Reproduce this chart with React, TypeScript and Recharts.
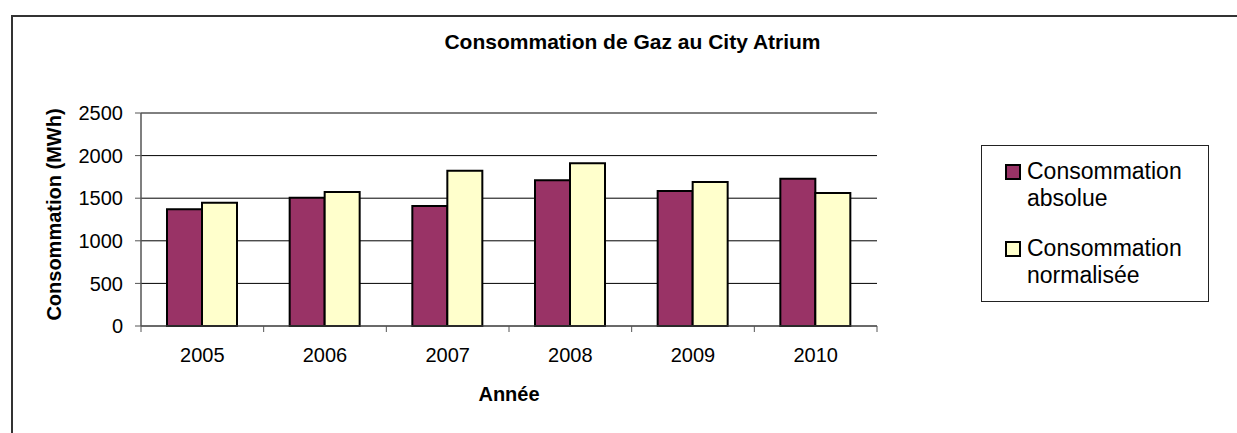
import React from 'react';
import { BarChart, Bar, XAxis, YAxis, CartesianGrid, Legend } from 'recharts';

const years = ['2005', '2006', '2007', '2008', '2009', '2010'];
const absolue = [1370, 1506, 1408, 1710, 1585, 1729];
const normalisee = [1447, 1573, 1823, 1910, 1690, 1561];
const yTicks = [0, 500, 1000, 1500, 2000, 2500];

const seriesNames = ['Consommation absolue', 'Consommation normalisée'];
const seriesColors = ['#993366', '#FFFFCC'];

const data = years.map((y, i) => ({ year: y, absolue: absolue[i], normalisee: normalisee[i] }));

const FONT = '"Liberation Sans", Arial, sans-serif';
const CHART_W = 1229;
const CHART_H = 425;
const MARGIN = { top: 105, right: 360, bottom: 27, left: 13 };
const Y_AXIS_W = 120;
const X_AXIS_H = 80;
const X_TICK_SIZE = 6;
const X_TICK_MARGIN = 16;
const PLOT_W = CHART_W - MARGIN.left - MARGIN.right - Y_AXIS_W;
const HALF_BAND = PLOT_W / years.length / 2;

const XTick = (props: any) => {
  const { x, y, payload, index } = props;
  const base = y - X_TICK_SIZE - X_TICK_MARGIN;
  return (
    <g>
      <line x1={x - HALF_BAND} y1={base} x2={x - HALF_BAND} y2={base + X_TICK_SIZE} stroke="#555" strokeWidth={1} />
      {index === years.length - 1 && (
        <line x1={x + HALF_BAND} y1={base} x2={x + HALF_BAND} y2={base + X_TICK_SIZE} stroke="#555" strokeWidth={1} />
      )}
      <text x={x} y={y} dy="0.71em" textAnchor="middle" fontSize={20} fill="#000" fontFamily={FONT}>
        {payload.value}
      </text>
    </g>
  );
};

const YLabel = (props: any) => {
  const vb = props.viewBox || {};
  const cx = vb.x + 33;
  const cy = vb.y + vb.height / 2 - 5;
  return (
    <text
      x={cx}
      y={cy}
      dy="0.36em"
      textAnchor="middle"
      transform={`rotate(-90, ${cx}, ${cy})`}
      fontSize={20}
      fontWeight="bold"
      fill="#000"
      fontFamily={FONT}
    >
      Consommation (MWh)
    </text>
  );
};

const LegendContent = () => (
  <div
    style={{
      boxSizing: 'border-box',
      width: 228,
      height: 157,
      border: '1px solid #222',
      background: '#fff',
      paddingTop: 12,
      paddingLeft: 23,
      fontFamily: FONT,
      fontSize: 23,
      lineHeight: '27px',
      color: '#000',
    }}
  >
    {seriesNames.map((name, i) => (
      <div key={name} style={{ display: 'flex', alignItems: 'flex-start', marginBottom: i === 0 ? 23 : 0 }}>
        <div
          style={{
            boxSizing: 'border-box',
            width: 16,
            height: 16,
            marginTop: 6,
            marginRight: 6,
            flex: '0 0 16px',
            background: seriesColors[i],
            border: '2px solid #000',
          }}
        />
        <div style={{ width: 170 }}>{name}</div>
      </div>
    ))}
  </div>
);

export default function App() {
  return (
    <div style={{ position: 'fixed', left: 0, top: 0, width: 1237, height: 433, overflow: 'hidden', background: '#fff' }}>
      <div style={{ position: 'absolute', left: 8, top: 8, width: CHART_W, height: CHART_H }}>
        <div
          style={{
            position: 'absolute',
            left: 3,
            top: 7,
            width: CHART_W - 3,
            height: CHART_H - 7,
            borderTop: '2px solid #333',
            borderLeft: '2px solid #333',
            boxSizing: 'border-box',
          }}
        />
        <div
          style={{
            position: 'absolute',
            left: 0,
            top: 23,
            width: 1249,
            textAlign: 'center',
            fontFamily: FONT,
            fontSize: 21,
            fontWeight: 'bold',
            lineHeight: '21px',
            color: '#000',
          }}
        >
          Consommation de Gaz au City Atrium
        </div>
        <div style={{ position: 'absolute', left: 0, top: 0 }}>
          <BarChart width={CHART_W} height={CHART_H} data={data} margin={MARGIN} barGap={0} barCategoryGap={26}>
            <CartesianGrid vertical={false} stroke="#000" strokeWidth={1} />
            <XAxis
              dataKey="year"
              height={X_AXIS_H}
              tickLine={false}
              tickSize={X_TICK_SIZE}
              tickMargin={X_TICK_MARGIN}
              tick={<XTick />}
              axisLine={{ stroke: '#555', strokeWidth: 1 }}
              label={{ value: 'Année', position: 'insideBottom', offset: 5, fontSize: 20, fontWeight: 'bold', fill: '#000', fontFamily: FONT }}
            />
            <XAxis xAxisId="top" dataKey="year" orientation="top" height={0} tick={false} tickLine={false} axisLine={{ stroke: '#888', strokeWidth: 2 }} />
            <YAxis
              width={Y_AXIS_W}
              domain={[0, 2500]}
              ticks={yTicks}
              interval={0}
              tickSize={6}
              tickMargin={12}
              tick={{ fontSize: 20, fill: '#000', fontFamily: FONT }}
              tickLine={{ stroke: '#555' }}
              axisLine={{ stroke: '#555', strokeWidth: 1.5 }}
              label={YLabel}
            />
            <YAxis yAxisId="right" orientation="right" width={0} domain={[0, 2500]} tick={false} tickLine={false} axisLine={{ stroke: '#888', strokeWidth: 2 }} />
            <Legend
              layout="horizontal"
              align="center"
              verticalAlign="middle"
              wrapperStyle={{ left: 973, top: 137, width: 228, height: 157 }}
              content={LegendContent}
            />
            <Bar dataKey="absolue" name={seriesNames[0]} fill={seriesColors[0]} stroke="#000" strokeWidth={2} isAnimationActive={false} />
            <Bar dataKey="normalisee" name={seriesNames[1]} fill={seriesColors[1]} stroke="#000" strokeWidth={2} isAnimationActive={false} />
          </BarChart>
        </div>
      </div>
    </div>
  );
}
